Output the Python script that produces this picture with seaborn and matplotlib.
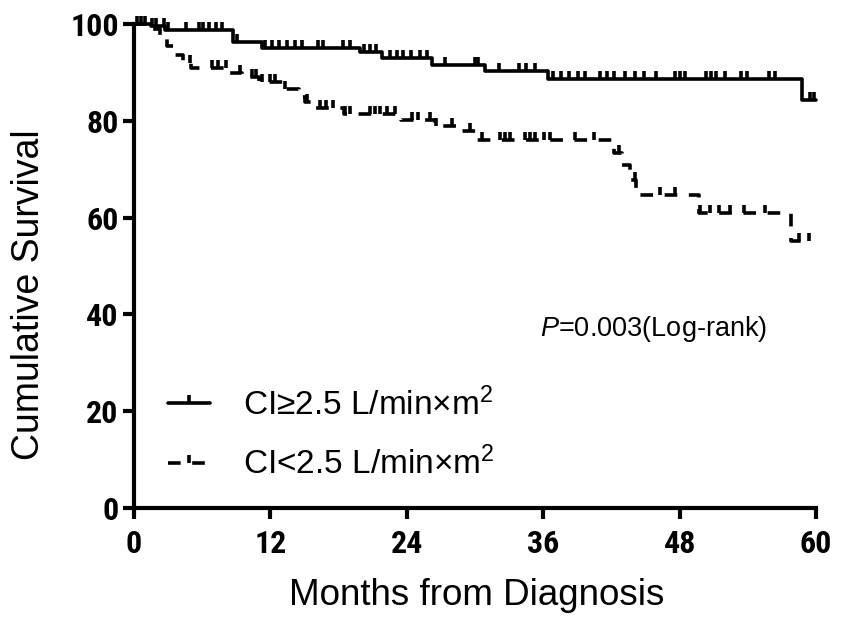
import numpy as np
import pandas as pd
import matplotlib
matplotlib.use("Agg")
import matplotlib.pyplot as plt
import seaborn as sns
from matplotlib.path import Path
from matplotlib.lines import Line2D

# ---- data ----
high_times = [0, 1.5, 2.7, 8.7, 11.3, 19.9, 21.8, 26.2, 30.9, 36.4, 58.8, 60.0]
high_surv = [100, 99.5, 98.8, 96.3, 95.0, 94.2, 93.0, 91.5, 90.2, 88.6, 84.2, 84.2]
high_censor = [0.3, 0.6, 1.0, 1.6, 1.9, 2.6, 3.0, 4.6, 5.7, 6.1, 6.6, 7.2, 7.7, 9.1,
               11.5, 12.1, 12.8, 13.5, 14.2, 14.8, 16.2, 16.6, 18.4, 19.0, 20.2, 20.8,
               21.3, 22.5, 23.1, 23.7, 24.4, 25.2, 25.8, 27.4, 30.0, 30.3, 32.1, 33.9,
               34.5, 35.3, 36.9, 37.6, 38.3, 39.1, 39.7, 41.0, 41.6, 42.2, 43.2, 44.1,
               44.9, 45.9, 47.6, 48.0, 48.5, 50.3, 50.8, 51.2, 52.0, 53.4, 53.9, 55.9,
               56.4, 59.5, 59.8]

low_times = [0, 1.4, 2.3, 2.9, 3.5, 4.3, 5.0, 8.4, 9.5, 11.0, 13.2, 14.5, 15.0, 15.6,
             18.5, 23.5, 26.5, 28.5, 30.2, 42.2, 42.9, 43.6, 44.2, 49.7, 57.8, 59.6]
low_surv = [100, 99.0, 97.2, 95.4, 93.6, 92.0, 91.0, 89.8, 89.0, 88.0, 86.6, 85.0, 83.8,
            82.6, 81.4, 80.2, 79.0, 77.8, 76.0, 73.4, 70.8, 67.8, 64.6, 61.0, 55.2, 55.2]
low_censor = [4.9, 6.9, 7.4, 8.1, 9.3, 10.4, 10.7, 11.3, 12.0, 12.4, 13.3, 15.2, 16.4,
              16.9, 17.5, 18.6, 19.0, 20.8, 21.2, 21.6, 22.3, 23.0, 24.5, 25.0, 26.0,
              26.6, 28.0, 29.6, 30.6, 32.2, 32.6, 33.1, 34.4, 34.8, 35.3, 36.1, 36.6,
              38.8, 40.5, 42.7, 44.1, 46.3, 47.6, 49.8, 50.7, 51.5, 52.4, 53.7, 55.5,
              58.5, 59.4]

group_labels = [r"CI≥2.5 L/min×m$^{2}$", r"CI<2.5 L/min×m$^{2}$"]
x_ticks = [0, 12, 24, 36, 48, 60]
y_ticks = [0, 20, 40, 60, 80, 100]

# ---- style ----
sns.set_style("ticks")
plt.rcParams["font.family"] = ["Liberation Sans", "DejaVu Sans"]
plt.rcParams["mathtext.fontset"] = "custom"
plt.rcParams["mathtext.rm"] = "Liberation Sans"
plt.rcParams["mathtext.it"] = "Liberation Sans:italic"
plt.rcParams["mathtext.bf"] = "Liberation Sans:bold"
plt.rcParams["text.color"] = "black"
plt.rcParams["axes.labelcolor"] = "black"
plt.rcParams["xtick.color"] = "black"
plt.rcParams["ytick.color"] = "black"

fig = plt.figure(figsize=(8.44, 6.23), dpi=100)
ax = fig.add_axes([134 / 844, 1 - 508 / 623, 682 / 844, 484 / 623])

df = pd.concat([
    pd.DataFrame({"t": high_times, "s": high_surv, "g": "high"}),
    pd.DataFrame({"t": low_times, "s": low_surv, "g": "low"}),
], ignore_index=True)

LW = 2.6
DASH = (3.5, 3.2)
sns.lineplot(data=df, x="t", y="s", hue="g", style="g",
             palette={"high": "black", "low": "black"},
             dashes={"high": "", "low": DASH},
             drawstyle="steps-post", estimator=None, sort=False,
             linewidth=LW, legend=False, ax=ax, clip_on=False)

tick_marker = Path([(0, 0), (0, 1)])


def step_at(times, surv, pts):
    times = np.asarray(times)
    surv = np.asarray(surv)
    idx = np.searchsorted(times, pts, side="right") - 1
    return surv[idx]


for times, surv, cens in [(high_times, high_surv, high_censor),
                          (low_times, low_surv, low_censor)]:
    ax.plot(cens, step_at(times, surv, cens), ls="none", marker=tick_marker,
            ms=12, mew=2.6, color="black", clip_on=False)

ax.set_xlim(0, 60)
ax.set_ylim(0, 100)
ax.set_xticks(x_ticks)
ax.set_yticks(y_ticks)
sns.despine(ax=ax)
for sp in ["left", "bottom"]:
    ax.spines[sp].set_linewidth(3)
    ax.spines[sp].set_color("black")
ax.tick_params(axis="both", width=3, length=8, color="black", labelcolor="black")
ax.tick_params(axis="x", pad=7)
ax.tick_params(axis="y", pad=3)
for lab in ax.get_xticklabels() + ax.get_yticklabels():
    lab.set_family(["Roboto Condensed", "DejaVu Sans"])
    lab.set_fontweight("bold")
    lab.set_fontsize(23)

ax.set_xlabel("Months from Diagnosis", fontsize=26.5, color="black")
ax.set_ylabel("Cumulative Survival", fontsize=27, color="black")
ax.xaxis.set_label_coords(0.503, -0.145)
ax.yaxis.set_label_coords(-0.127, 0.44)

ax.text(35.7, 37.0, r"$P$=0.003(Log-rank)", fontsize=19.5, va="center", ha="left")

handles = [
    Line2D([], [], color="black", lw=LW, ls="-", marker=tick_marker, ms=12, mew=2.6),
    Line2D([], [], color="black", lw=LW, ls=(0, DASH), marker=tick_marker, ms=12, mew=2.6),
]
ax.legend(handles, group_labels, loc="lower left", bbox_to_anchor=(0.05, 0.055),
          frameon=False, fontsize=24, handlelength=1.25, handletextpad=1.0,
          labelspacing=0.75, borderpad=0, borderaxespad=0, numpoints=1)

fig.savefig("out.png", dpi=100)
